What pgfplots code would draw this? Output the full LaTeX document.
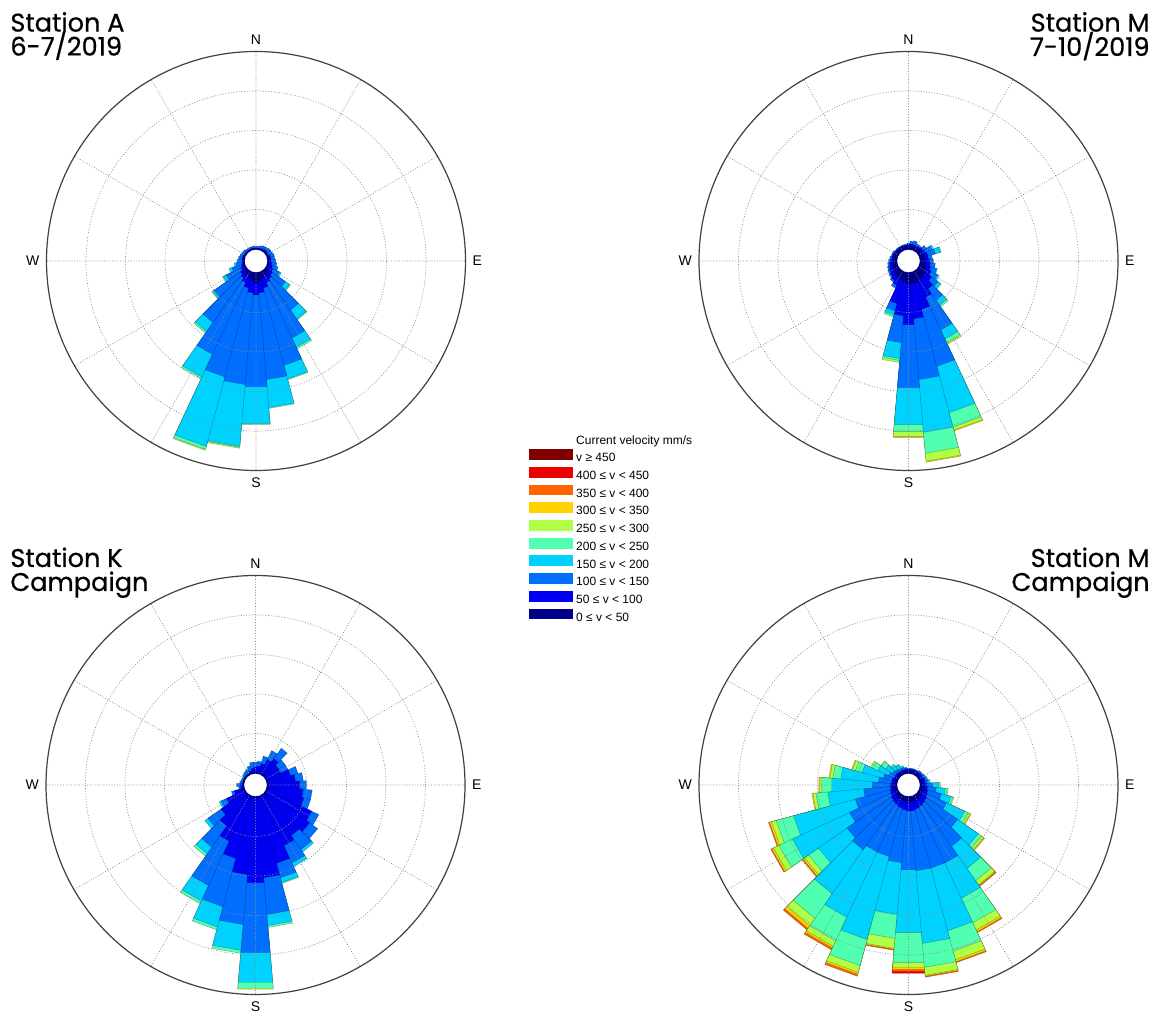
\documentclass[border=0pt]{standalone}
\usepackage{fontspec}
\setmainfont{Liberation Sans}
\newfontfamily\titlefont[FakeBold=0.6]{Poppins}
\usepackage{pgfplots}
\pgfplotsset{compat=1.18}
\usepgfplotslibrary{polar}

\definecolor{c1}{RGB}{0,0,140}
\definecolor{c2}{RGB}{0,0,245}
\definecolor{c3}{RGB}{0,110,255}
\definecolor{c4}{RGB}{0,210,255}
\definecolor{c5}{RGB}{80,255,175}
\definecolor{c6}{RGB}{175,255,70}
\definecolor{c7}{RGB}{255,210,0}
\definecolor{c8}{RGB}{255,100,0}
\definecolor{c9}{RGB}{235,0,0}
\definecolor{c10}{RGB}{128,0,0}

\pgfplotsset{
  petal/.style={draw=black, draw opacity=0.35, line width=0.2pt, line join=round},
  cls1/.style={petal, fill=c1}, cls2/.style={petal, fill=c2},
  cls3/.style={petal, fill=c3}, cls4/.style={petal, fill=c4},
  cls5/.style={petal, fill=c5}, cls6/.style={petal, fill=c6},
  cls7/.style={petal, fill=c7}, cls8/.style={petal, fill=c8},
  cls9/.style={petal, fill=c9}, cls10/.style={petal, fill=c10},
  rose/.style={
    width=209.5pt, height=209.5pt, scale only axis, anchor=center,
    xmin=0, xmax=360, ymin=0, ymax=209.5,
    xtick={0,30,...,330}, xticklabels={E,,,N,,,W,,,S,,},
    ytick={51.5,91,130.5,170}, yticklabels={},
    grid=major,
    major grid style={black!45, dash pattern=on 0.45pt off 0.9pt, line width=0.35pt},
    axis line style={black!75, line width=0.6pt},
    y axis line style={draw=none},
    tick style={draw=none},
    xticklabel style={font=\fontsize{7}{8}\selectfont},
    axis on top,
  },
}

% list entries: direction (deg clockwise from N) / cumulative radii of the speed classes
\newcommand\buildrose[2]{%
  \foreach \kk in {1,...,10}{\expandafter\gdef\csname w#1\kk\endcsname{}}%
  \foreach \dd/\vv in {#2}{%
    \pgfmathsetmacro\ta{mod(455-\dd,360)}%
    \pgfmathsetmacro\tb{mod(445-\dd,360)}%
    \foreach \rr [count=\nn] in \vv{%
      \expandafter\xdef\csname w#1\nn\endcsname{\csname w#1\nn\endcsname (0,0) (\ta,\rr) (\tb,\rr)}%
    }%
  }%
}
\newcommand\drawrose[1]{%
  \pgfplotsinvokeforeach{10,9,8,7,6,5,4,3,2,1}{%
    \edef\myplotcmd{\noexpand\addplot[cls##1] coordinates {\csname w#1##1\endcsname (0,0)};}\myplotcmd
  }%
}

\begin{document}
\begin{tikzpicture}
\useasboundingbox (0,0) rectangle (579pt,506pt);

% ---------------- Station A 6-7/2019
\buildrose{A}{0/{13,13,15},10/{13,13,15},20/{13,13,16},30/{13,14,17},40/{13,14,17},
50/{13,14,18},60/{13,14,18},70/{13,15,19},80/{13,15,19},90/{13,15,20},100/{13,16,21},
110/{13,17,23},120/{14,19,26,28},130/{15,20,36,41,42},140/{16,22,60,71,72},
150/{17,24,85,95,97},160/{18,28,108,122,123},170/{20,32,119,147,148},
180/{22,34,126,163,164},190/{20,32,124,186,187,188},200/{18,28,120,192,195,196},
210/{16,24,103,128,130},220/{15,21,75,86,88},230/{14,19,51,53,54},240/{13,17,33,36,37},
250/{13,15,25,28},260/{13,14,20,22},270/{13,14,18,19},280/{13,14,17,18},290/{13,14,17},
300/{13,13,16},310/{13,13,16},320/{13,13,15},330/{13,13,15},340/{13,13,15},350/{13,13,15}}
\begin{polaraxis}[rose, name=A, at={(128pt,375.5pt)}]
\drawrose{A}
\end{polaraxis}

% ---------------- Station M 7-10/2019
\buildrose{M}{0/{15,17,18},10/{15,17,20},20/{15,17,21},30/{15,17,19},40/{15,17,19},
50/{15,18,22},60/{15,19,26,28},70/{16,20,28,33,34},80/{16,20,24},90/{17,21,25},
100/{17,22,27},110/{18,23,29,30},120/{19,25,32,34},130/{20,28,36,39,40},
140/{21,34,48,54,56},150/{22,40,76,86,90,92},160/{23,50,109,157,172,175,176},
170/{23,58,119,172,193,201,202},180/{23,64,127,164,171,176,177},
190/{22,55,82,98,100,102},200/{20,44,52,56,58},210/{19,27,30},220/{18,24,26},
230/{18,22,24},240/{17,21,23},250/{17,20,22},260/{16,19,21},270/{16,18,20},
280/{15,17,19},290/{15,17,18},300/{15,17,18},310/{15,16,17},320/{15,16,17},
330/{15,16,17},340/{15,16,17},350/{15,16,17}}
\begin{polaraxis}[rose, name=M, at={(454.25pt,375.5pt)}]
\drawrose{M}
\end{polaraxis}

% ---------------- Station K campaign
\buildrose{K}{0/{13,18,23},10/{13,19,24},20/{13,22,30},30/{13,28,38},40/{13,32,45},
50/{13,28,36},60/{13,28,36},70/{13,36,44},80/{13,40,48},90/{13,44,51},100/{13,48,57},
110/{13,50,57},120/{13,62,70},130/{13,66,76},140/{13,62,79,82},150/{13,67,86,90},
160/{13,81,96,101,102},170/{13,93,130,141,143},180/{13,98,168,198,204,205},
190/{13,90,140,166,169},200/{13,76,126,147,150},210/{13,62,111,128,131},
220/{13,50,76,84,87},230/{13,42,58,62},240/{13,32,38,40},250/{13,22,25},
260/{13,15,17},270/{13,15,19},280/{13,13,16},290/{13,13,15},300/{13,13,15},
310/{13,13,15,16},320/{13,13,16,17},330/{13,13,17,18},340/{13,15,20},350/{13,17,23}}
\begin{polaraxis}[rose, name=K, at={(127.75pt,113.5pt)}]
\drawrose{K}
\end{polaraxis}

% ---------------- Station M campaign
\buildrose{C}{0/{14,16,17},10/{14,16,17},20/{14,16,17},30/{14,16,17},40/{14,16,18},
50/{14,16,18},60/{14,16,18,19},70/{14,17,19,20},80/{14,17,20,22},90/{14,18,24,30,32},
100/{15,19,28,37,39,40},110/{15,20,34,44,46,47},120/{15,21,42,62,66,68,69},
130/{16,22,60,85,89,92,93},140/{16,23,75,102,117,122,123,124},
150/{16,24,86,125,152,160,162,163},160/{17,25,86,151,172,181,183,184},
170/{17,26,86,159,183,191,192,193},180/{17,26,85,148,178,183,185,187,189},
190/{17,25,78,130,154,164,165,166},200/{16,24,74,160,187,194,196,198},
210/{16,23,74,146,172,178,180,182},220/{16,22,79,133,163,172,175,177},
230/{15,21,75,110,122,127,129,130},240/{15,20,65,128,143,149,151,152},
250/{15,19,55,119,137,142,144,145},260/{15,18,45,81,93,96,97},
270/{14,18,36,77,87,89,90},280/{14,17,30,68,76,79,80},290/{14,17,26,48,55,58,59},
300/{14,16,22,34,40,42},310/{14,16,20,28,33,34},320/{14,16,19,24,26},
330/{14,16,18,22,23},340/{14,16,18,20},350/{14,16,17,18}}
\begin{polaraxis}[rose, name=C, at={(454.25pt,113.5pt)}]
\drawrose{C}
\end{polaraxis}

% centre holes
\foreach \ax in {A,M,K,C}{%
  \fill[white] (\ax.center) circle[radius=6pt];
  \draw[c1, line width=0.6pt] (\ax.center) circle[radius=6pt];
}

% ---------------- legend
\begin{axis}[hide axis, scale only axis, width=1pt, height=1pt,
  xmin=0, xmax=1, ymin=0, ymax=1,
  at={(264.5pt,288.5pt)}, anchor=north west,
  legend style={at={(0,1)}, anchor=north west, draw=none, fill=none,
    inner sep=0pt, outer sep=0pt, row sep=1.15pt,
    font=\fontsize{6}{6.5}\selectfont,
    nodes={inner sep=0pt, text height=4.6pt, text depth=1.4pt},
    /tikz/every odd column/.append style={column sep=1.6pt}},
  legend cell align=left,
  legend image code/.code={\path[#1] (0pt,-0.7pt) rectangle (22pt,4.7pt);},
]
\addlegendimage{empty legend}\addlegendentry{Current velocity mm/s}
\addlegendimage{fill=c10, draw=none}\addlegendentry{v ≥ 450}
\addlegendimage{fill=c9, draw=none}\addlegendentry{400 ≤ v < 450}
\addlegendimage{fill=c8, draw=none}\addlegendentry{350 ≤ v < 400}
\addlegendimage{fill=c7, draw=none}\addlegendentry{300 ≤ v < 350}
\addlegendimage{fill=c6, draw=none}\addlegendentry{250 ≤ v < 300}
\addlegendimage{fill=c5, draw=none}\addlegendentry{200 ≤ v < 250}
\addlegendimage{fill=c4, draw=none}\addlegendentry{150 ≤ v < 200}
\addlegendimage{fill=c3, draw=none}\addlegendentry{100 ≤ v < 150}
\addlegendimage{fill=c2, draw=none}\addlegendentry{50 ≤ v < 100}
\addlegendimage{fill=c1, draw=none}\addlegendentry{0 ≤ v < 50}
\end{axis}

% ---------------- titles
\begin{scope}[every node/.style={font=\titlefont\fontsize{12.8}{13}\selectfont, inner sep=0pt}]
\node[anchor=base west] at (5pt,490.2pt) {Station A};
\node[anchor=base west] at (5pt,478.2pt) {6-7/2019};
\node[anchor=base east] at (575pt,490.2pt) {Station M};
\node[anchor=base east] at (575pt,478pt) {7-10/2019};
\node[anchor=base west] at (5pt,222.5pt) {Station K};
\node[anchor=base west] at (5pt,210.5pt) {Campaign};
\node[anchor=base east] at (575pt,222.5pt) {Station M};
\node[anchor=base east] at (575pt,210.5pt) {Campaign};
\end{scope}
\end{tikzpicture}
\end{document}
